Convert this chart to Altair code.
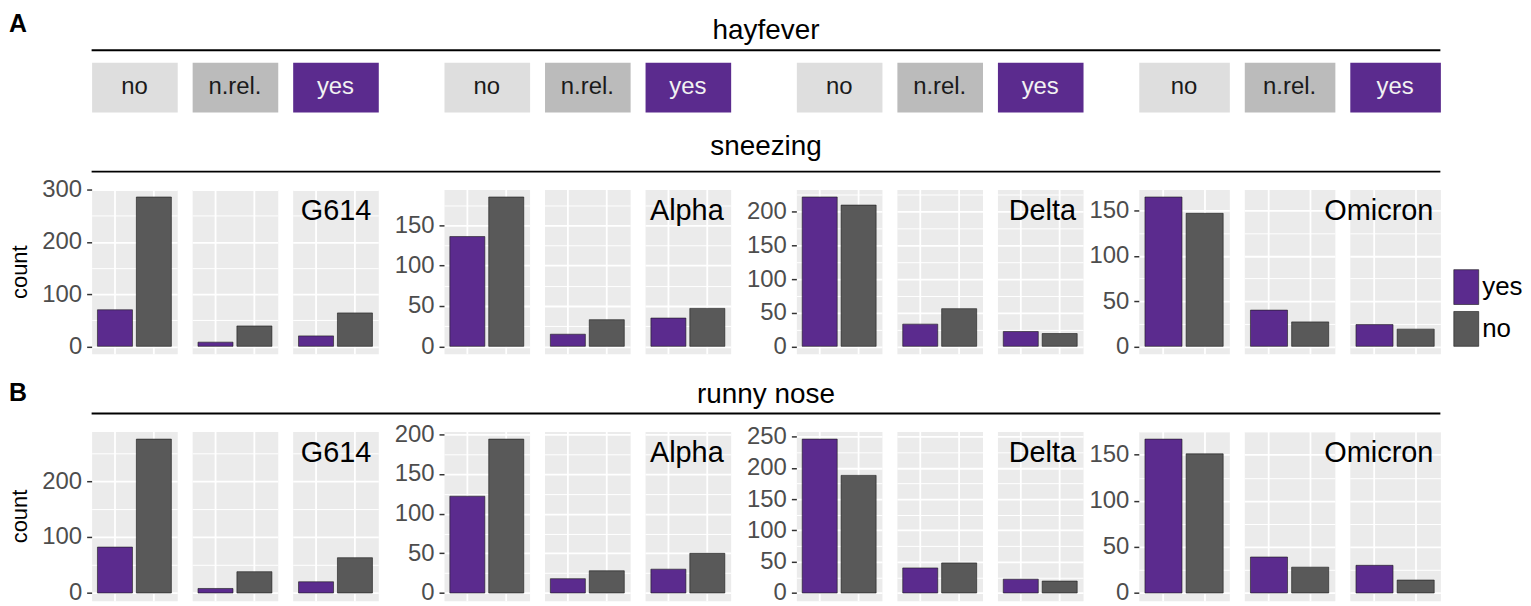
import altair as alt
import pandas as pd

# ---------------- data ----------------
variants = ["G614", "Alpha", "Delta", "Omicron"]
hayfever_levels = ["no", "n.rel.", "yes"]
responses = ["yes", "no"]

# counts per variant (rows) and hayfever level (no, n.rel., yes)
sneezing_yes = [[70, 8, 20], [136, 15, 35], [222, 33, 22], [165, 40, 24]]
sneezing_no = [[286, 39, 64], [185, 33, 47], [210, 56, 19], [147, 27, 19]]
runny_yes = [[82, 8, 20], [122, 18, 30], [246, 40, 22], [167, 39, 30]]
runny_no = [[275, 38, 63], [194, 28, 50], [188, 48, 19], [151, 28, 14]]
sneezing_steps = [100, 50, 50, 50]
runny_steps = [100, 50, 50, 50]

# ---------------- style / layout ----------------
FONT = "Liberation Sans"
PURPLE = "#5B2B8E"
DARK = "#595959"
STRIP_FILL = {"no": "#DEDEDE", "n.rel.": "#BBBBBB", "yes": PURPLE}
STRIP_TEXT = {"no": "#1A1A1A", "n.rel.": "#1A1A1A", "yes": "#F2F2F2"}
PANEL_W = [86, 86, 86, 91]      # panel width per variant group
SPACER_W = [36, 36, 26]         # extra room between groups (for the y axes)
GAP = 15
ROW_W = sum(3 * w + 2 * GAP for w in PANEL_W) + sum(2 * GAP + s for s in SPACER_W)

fill_scale = alt.Scale(domain=responses, range=[PURPLE, DARK])
legend = alt.Legend(
    title=None, orient="none", legendX=1358, legendY=260,
    symbolType="M-0.43,-1H1V1H-0.43Z", symbolSize=1225,
    symbolStrokeColor="#1a1a1a", symbolStrokeWidth=0.6, symbolOpacity=1,
    labelFontSize=26, labelColor="black", labelOffset=3, rowPadding=4,
)
xscale = alt.Scale(domain=responses, paddingInner=0.1, paddingOuter=0.15)
xaxis = alt.Axis(title=None, labels=False, ticks=False, domain=False, grid=True,
                 gridColor="white", gridWidth=1.8, bandPosition=0.5)


def spacer(width, height):
    return alt.Chart(pd.DataFrame({"s": [""]})).mark_text().encode(text="s:N").properties(
        width=width, height=height,
        view=alt.ViewBackground(fill="transparent", stroke="transparent"))


def panel_row(yes_counts, no_counts, steps, height):
    charts = []
    for gi, var in enumerate(variants):
        pw = PANEL_W[gi]
        if gi > 0:
            charts.append(spacer(SPACER_W[gi - 1], height))
        m = max(max(yes_counts[gi]), max(no_counts[gi]))
        domain = [-0.05 * m, 1.05 * m]
        step = steps[gi]
        vals = []
        v = 0
        while v <= domain[1]:
            vals.append(v)
            v += step / 2
        test = f"datum.value % {step} == 0"
        grid_w = {"condition": {"test": test, "value": 1.8}, "value": 1.0}
        for hi, hf in enumerate(hayfever_levels):
            df = pd.DataFrame({"response": responses,
                               "count": [yes_counts[gi][hi], no_counts[gi][hi]]})
            if hi == 0:
                axis = alt.Axis(
                    values=vals, labelExpr=f"{test} ? datum.label : ''",
                    labelFontSize=24, labelColor="#4D4D4D", labelPadding=5,
                    tickSize=5, tickColor="#333333", tickWidth=1.5,
                    tickOpacity={"condition": {"test": test, "value": 1}, "value": 0},
                    domain=False, grid=True, gridColor="white", gridWidth=grid_w,
                    title="count" if gi == 0 else None,
                    titleFontSize=22, titleFontWeight="normal", titleColor="black",
                    titlePadding=9, minExtent=51, maxExtent=51,
                )
            else:
                axis = alt.Axis(values=vals, labels=False, ticks=False, domain=False,
                                grid=True, gridColor="white", gridWidth=grid_w,
                                title=None, minExtent=0, maxExtent=0)
            bars = alt.Chart(df).mark_bar(stroke="#1a1a1a", strokeWidth=0.6).encode(
                x=alt.X("response:N", scale=xscale, axis=xaxis),
                y=alt.Y("count:Q", scale=alt.Scale(domain=domain, nice=False, zero=False),
                        axis=axis),
                y2=alt.datum(0),
                fill=alt.Fill("response:N", scale=fill_scale, legend=legend),
            )
            layers = [bars]
            if hi == 2:
                lab = alt.Chart(pd.DataFrame({"variant": [var]})).mark_text(
                    align="right", baseline="alphabetic", fontSize=29, color="black"
                ).encode(text="variant:N", x=alt.value(pw - 7), y=alt.value(31))
                layers.append(lab)
            charts.append(alt.layer(*layers).properties(width=pw, height=height))
    return alt.hconcat(*charts, spacing=GAP, bounds="flush")


def strip_row():
    charts = []
    for gi in range(len(variants)):
        if gi > 0:
            charts.append(spacer(SPACER_W[gi - 1], 50))
        for hi, hf in enumerate(hayfever_levels):
            c = alt.Chart(pd.DataFrame({"hayfever": [hf]})).mark_text(
                fontSize=24, color=STRIP_TEXT[hf], baseline="middle"
            ).encode(text="hayfever:N").properties(
                width=PANEL_W[gi], height=50,
                view=alt.ViewBackground(fill=STRIP_FILL[hf], stroke="transparent"))
            charts.append(c)
    return alt.hconcat(*charts, spacing=GAP, bounds="flush")


def header(title, height, text_y, rule_y, tag=None, tag_y=0):
    df = pd.DataFrame({"t": [title]})
    txt = alt.Chart(df).mark_text(fontSize=28, baseline="alphabetic", color="black").encode(
        text="t:N", y=alt.value(text_y))
    rule = alt.Chart(df).mark_rule(color="black", strokeWidth=2).encode(
        x=alt.value(0), x2=alt.value(ROW_W), y=alt.value(rule_y))
    layers = [txt, rule]
    if tag:
        tg = alt.Chart(pd.DataFrame({"tag": [tag]})).mark_text(
            fontSize=25, fontWeight="bold", align="left", baseline="top", color="black"
        ).encode(text="tag:N", x=alt.value(-83), y=alt.value(tag_y))
        layers.append(tg)
    return alt.layer(*layers).properties(
        width=ROW_W, height=height,
        view=alt.ViewBackground(fill="white", stroke="transparent"))


chart = alt.vconcat(
    header("hayfever", 50, 29, 40, tag="A", tag_y=2),
    strip_row(),
    header("sneezing", 62, 41, 58),
    panel_row(sneezing_yes, sneezing_no, sneezing_steps, 165),
    header("runny nose", 61, 43, 54, tag="B", tag_y=21),
    panel_row(runny_yes, runny_no, runny_steps, 170),
    spacing=0,
).properties(padding=0).configure(font=FONT).configure_view(
    fill="#EBEBEB", stroke="transparent")

chart.save("out.html", embed_options={"renderer": "svg", "actions": False})
